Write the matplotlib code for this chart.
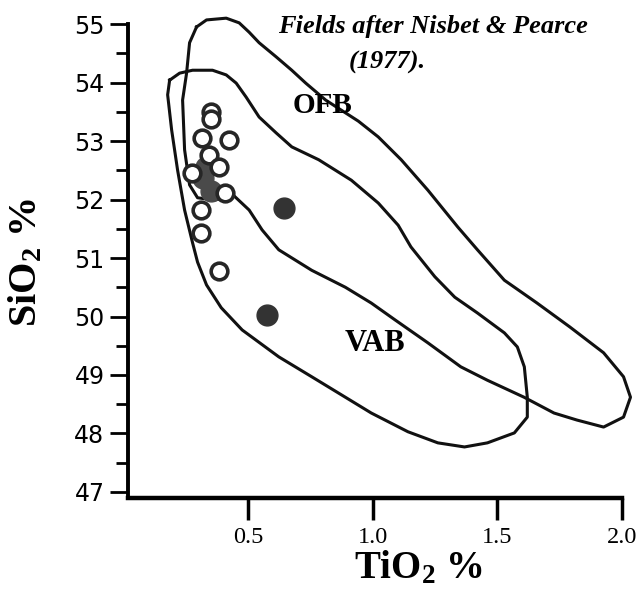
import numpy as np
import matplotlib
matplotlib.use('Agg')
import matplotlib.pyplot as plt

plt.rcParams['mathtext.fontset'] = 'custom'
plt.rcParams['mathtext.rm'] = 'Liberation Serif:bold'
plt.rcParams['mathtext.it'] = 'Liberation Serif:bold:italic'
plt.rcParams['mathtext.bf'] = 'Liberation Serif:bold'
plt.rcParams['mathtext.default'] = 'rm'

# sample points, TiO2 % vs SiO2 %
open_tio2 = [0.351, 0.349, 0.316, 0.424, 0.342, 0.384, 0.276, 0.408, 0.312, 0.312, 0.384]
open_sio2 = [53.50, 53.38, 53.05, 53.02, 52.76, 52.56, 52.45, 52.11, 51.82, 51.43, 50.77]
filled_tio2 = [0.643, 0.577]
filled_sio2 = [51.85, 50.03]
# grey blob hidden under the open circle cluster
blob_tio2 = [0.32, 0.35, 0.33]
blob_sio2 = [52.36, 52.15, 52.55]

# field outlines (Nisbet & Pearce 1977)
ofb_tio2 = [0.293, 0.333, 0.412, 0.464, 0.504, 0.544, 0.612, 0.675, 0.731, 0.811,
            0.891, 0.942, 1.022, 1.114, 1.221, 1.341, 1.420, 1.528, 1.659, 1.791,
            1.926, 2.006, 2.034, 2.006, 1.926, 1.819, 1.727, 1.607, 1.460, 1.353,
            1.221, 1.090, 0.994, 0.890, 0.755, 0.623, 0.556, 0.504, 0.444, 0.365,
            0.297, 0.265, 0.245, 0.237, 0.253, 0.265]
ofb_sio2 = [54.95, 55.07, 55.10, 55.02, 54.86, 54.68, 54.44, 54.21, 53.99, 53.70,
            53.48, 53.34, 53.07, 52.68, 52.16, 51.53, 51.14, 50.62, 50.23, 49.82,
            49.38, 48.97, 48.62, 48.28, 48.11, 48.23, 48.35, 48.62, 48.91, 49.14,
            49.55, 49.94, 50.23, 50.50, 50.79, 51.14, 51.48, 51.82, 52.06, 51.99,
            52.03, 52.25, 52.85, 53.70, 54.16, 54.68]

vab_tio2 = [0.185, 0.225, 0.277, 0.357, 0.412, 0.452, 0.492, 0.544, 0.612, 0.675,
            0.783, 0.914, 1.022, 1.102, 1.153, 1.249, 1.329, 1.420, 1.528, 1.580,
            1.608, 1.620, 1.620, 1.568, 1.460, 1.368, 1.261, 1.141, 0.994, 0.890,
            0.755, 0.623, 0.476, 0.392, 0.333, 0.297, 0.277, 0.245, 0.217, 0.193,
            0.177]
vab_sio2 = [54.04, 54.16, 54.21, 54.21, 54.13, 53.99, 53.75, 53.41, 53.14, 52.90,
            52.68, 52.33, 51.94, 51.56, 51.19, 50.68, 50.33, 50.06, 49.72, 49.48,
            49.14, 48.62, 48.28, 48.01, 47.84, 47.77, 47.84, 48.03, 48.35, 48.62,
            48.97, 49.31, 49.77, 50.15, 50.54, 50.93, 51.26, 51.82, 52.50, 53.19,
            53.79]

yticks = [47, 48, 49, 50, 51, 52, 53, 54, 55]
xticks = [0.5, 1.0, 1.5, 2.0]
xticklabels = ['0.5', '1.0', '1.5', '2.0']

serif = ['Liberation Serif', 'DejaVu Serif']

fig = plt.figure(figsize=(6.41, 5.96), dpi=100)
ax = fig.add_axes([0.1997, 0.1644, 0.7707, 0.7953])

for xs, ys in [(ofb_tio2, ofb_sio2), (vab_tio2, vab_sio2)]:
    ax.plot(xs + xs[:1], ys + ys[:1], color='#111111', lw=2.2,
            solid_joinstyle='round', clip_on=False, zorder=2)

ax.plot(blob_tio2, blob_sio2, 'o', ms=15, color='#4a4a4a', mec='#4a4a4a', zorder=3)
ax.plot(open_tio2, open_sio2, 'o', ms=12, mfc='white', mec='#262626', mew=2.6, zorder=4)
ax.plot(filled_tio2, filled_sio2, 'o', ms=15, color='#333333', zorder=4)

ax.text(0.80, 53.60, 'OFB', family=serif, weight='bold', fontsize=21,
        ha='center', va='center')
ax.text(1.01, 49.54, 'VAB', family=serif, weight='bold', fontsize=22,
        ha='center', va='center')

fig.text(0.675, 0.956, 'Fields after Nisbet & Pearce', family=serif,
         weight='bold', style='italic', fontsize=19, ha='center', va='center')
fig.text(0.604, 0.896, '(1977).', family=serif, weight='bold',
         style='italic', fontsize=19, ha='center', va='center')

ax.set_xlim(0.018, 2.0)
ax.set_ylim(46.897, 55)
ax.set_yticks(yticks)
ax.set_yticks(np.arange(47.5, 55, 1), minor=True)
ax.set_xticks(xticks)
ax.set_xticklabels(xticklabels, family=serif, fontsize=17.5)
ax.tick_params(axis='y', which='major', length=13, width=2, pad=4, labelsize=17)
ax.tick_params(axis='y', which='minor', length=9, width=2)
ax.tick_params(axis='x', length=16, width=2.5, pad=5)

ax.spines['top'].set_visible(False)
ax.spines['right'].set_visible(False)
ax.spines['left'].set_linewidth(2.8)
ax.spines['bottom'].set_linewidth(3.2)

fig.text(0.042, 0.56, 'SiO$_2$ %', family=serif, weight='bold', fontsize=29,
         rotation=90, ha='center', va='center')
fig.text(0.652, 0.047, 'TiO$_2$ %', family=serif, weight='bold', fontsize=28,
         ha='center', va='center')

fig.savefig('out.png', dpi=100)
